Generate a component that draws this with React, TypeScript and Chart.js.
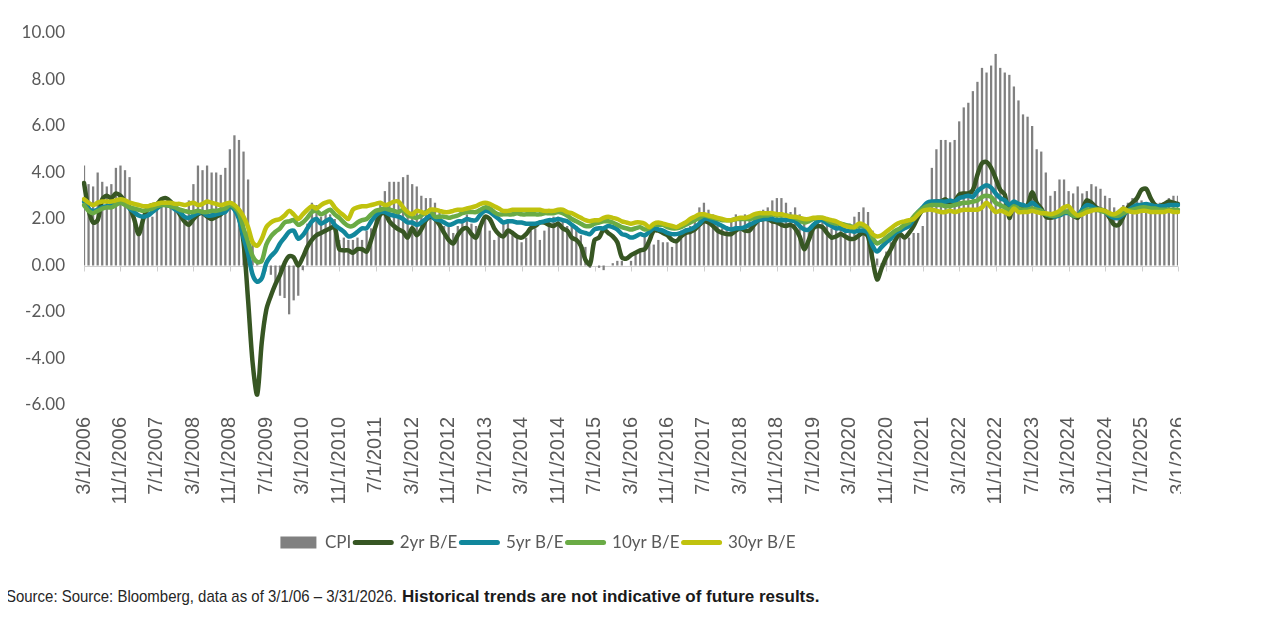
import React, { useEffect, useRef } from 'react';
import { Chart, registerables } from 'chart.js';

Chart.register(...registerables);

// Monthly categories, 3/1/2006 .. 3/1/2026
const START_YEAR = 2006;
const START_MONTH = 3;
const N_MONTHS = 241;
const categories: string[] = [];
for (let k = 0; k < N_MONTHS; k++) {
  const m0 = START_MONTH - 1 + k;
  categories.push(`${(m0 % 12) + 1}/1/${START_YEAR + Math.floor(m0 / 12)}`);
}
const LABEL_EVERY = 8;

const yTicks = [10, 8, 6, 4, 2, 0, -2, -4, -6];

// CPI (gray bars)
const cpi = [
  4.3, 3.5, 3.4,
  4.0, 3.6, 3.4, 3.5, 4.2, 4.3, 4.1, 3.8, 2.1, 1.3, 2.0, 2.5,
  2.1, 2.4, 2.8, 2.6, 2.7, 2.7, 2.4, 2.0, 2.8, 3.5, 4.3, 4.1,
  4.3, 4.0, 4.0, 3.9, 4.2, 5.0, 5.6, 5.4, 4.9, 3.7, 1.1, 0.1,
  0.0, 0.2, -0.4, -0.7, -1.3, -1.4, -2.1, -1.5, -1.3, -0.2, 1.8, 2.7,
  2.6, 2.1, 2.3, 2.2, 2.0, 1.1, 1.2, 1.1, 1.1, 1.2, 1.1, 1.5,
  1.6, 2.1, 2.7, 3.2, 3.6, 3.6, 3.6, 3.8, 3.9, 3.5, 3.4, 3.0,
  2.9, 2.9, 2.7, 2.3, 1.7, 1.7, 1.4, 1.7, 2.0, 2.2, 1.8, 1.7,
  1.6, 2.0, 1.5, 1.1, 1.4, 1.8, 2.0, 1.5, 1.2, 1.0, 1.2, 1.5,
  1.6, 1.1, 1.5, 2.0, 2.1, 2.1, 2.0, 1.7, 1.7, 1.7, 1.3, 0.8,
  -0.1, 0.0, -0.1, -0.2, 0.0, 0.1, 0.2, 0.2, 0.0, 0.2, 0.5, 0.7,
  1.4, 1.0, 0.9, 1.1, 1.0, 1.0, 0.8, 1.1, 1.5, 1.6, 1.7, 2.1,
  2.5, 2.7, 2.4, 2.2, 1.9, 1.6, 1.7, 1.9, 2.2, 2.0, 2.2, 2.1,
  2.1, 2.2, 2.4, 2.5, 2.8, 2.9, 2.9, 2.7, 2.3, 2.5, 2.2, 1.9,
  1.6, 1.5, 1.9, 2.0, 1.8, 1.6, 1.8, 1.7, 1.7, 1.8, 2.1, 2.3,
  2.5, 2.3, 1.5, 0.3, 0.1, 0.6, 1.0, 1.3, 1.4, 1.2, 1.2, 1.4,
  1.4, 1.7, 2.6, 4.2, 5.0, 5.4, 5.4, 5.3, 5.4, 6.2, 6.8, 7.0,
  7.5, 7.9, 8.5, 8.3, 8.6, 9.1, 8.5, 8.3, 8.2, 7.7, 7.1, 6.5,
  6.4, 6.0, 5.0, 4.9, 4.0, 3.0, 3.2, 3.7, 3.7, 3.2, 3.1, 3.4,
  3.1, 3.2, 3.5, 3.4, 3.3, 3.0, 2.9, 2.5, 2.4, 2.6, 2.7, 2.9,
  3.0, 2.8, 2.4, 2.3, 2.4, 2.7, 2.7, 2.9, 3.0, 3.0,
];

// 2yr breakeven
const be2 = [
  3.55, 2.4, 1.85, 1.95, 2.85, 3.0, 2.9, 3.1, 3.0, 2.75,
  2.5, 2.0, 1.35, 2.0, 2.5, 2.6, 2.65, 2.85, 2.9, 2.75,
  2.5, 2.2, 1.9, 1.75, 2.0, 2.2, 2.25, 2.1, 2.0, 2.1,
  2.2, 2.4, 2.6, 2.55, 2.1, 1.0, -1.5, -4.2, -5.55, -3.3,
  -1.9, -1.3, -0.8, -0.4, 0.1, 0.4, 0.35, 0.0, 0.35, 0.8,
  1.1, 1.3, 1.4, 1.5, 1.6, 1.65, 0.7, 0.65, 0.65, 0.55,
  0.7, 0.7, 0.6, 1.1, 1.7, 2.2, 2.25, 1.9, 1.7, 1.55,
  1.45, 1.2, 1.6, 1.3, 1.55, 1.95, 2.1, 2.0, 1.75, 1.4,
  1.1, 0.95, 1.3, 1.55, 1.6, 1.35, 1.2, 1.7, 2.1, 2.0,
  1.6, 1.35, 1.25, 1.5, 1.4, 1.25, 1.2, 1.35, 1.6, 1.7,
  1.85, 1.85, 1.75, 1.7, 1.8, 1.6, 1.5, 1.2, 1.1, 0.85,
  0.25, 0.05, 1.1, 1.2, 1.55, 1.4, 1.25, 1.0, 0.35, 0.3,
  0.45, 0.55, 0.65, 0.7, 1.05, 1.5, 1.5, 1.4, 1.3, 1.1,
  1.05, 1.25, 1.4, 1.45, 1.55, 1.75, 1.9, 1.85, 1.7, 1.5,
  1.4, 1.35, 1.35, 1.5, 1.6, 1.5, 1.5, 1.75, 1.95, 2.0,
  2.0, 1.9, 1.85, 1.75, 1.7, 1.75, 1.6, 1.25, 0.7, 1.1,
  1.6, 1.7, 1.65, 1.4, 1.2, 1.25, 1.35, 1.25, 1.15, 1.15,
  1.3, 1.4, 1.25, 0.25, -0.6, -0.1, 0.35, 0.7, 1.1, 1.35,
  1.2, 1.4, 1.7, 2.1, 2.4, 2.6, 2.7, 2.75, 2.75, 2.85,
  2.6, 2.75, 3.05, 3.1, 3.1, 3.25, 3.9, 4.4, 4.45, 4.2,
  3.75, 3.25, 3.05, 2.05, 2.65, 2.6, 2.5, 2.6, 3.15, 2.7,
  2.45, 2.1, 2.05, 2.1, 2.2, 2.3, 2.3, 2.15, 2.05, 2.4,
  2.8, 2.7, 2.5, 2.4, 2.35, 2.05, 1.75, 1.75, 2.1, 2.5,
  2.7, 2.9, 3.25, 3.3, 2.9, 2.6, 2.55, 2.65, 2.75, 2.7, 2.65,
];

// 5yr breakeven
const be5 = [
  2.75, 2.45, 2.35, 2.4, 2.5, 2.55, 2.6, 2.75, 2.85, 2.7,
  2.45, 2.3, 2.15, 2.1, 2.15, 2.3, 2.45, 2.6, 2.6, 2.55,
  2.4, 2.3, 2.1, 2.05, 2.15, 2.25, 2.3, 2.15, 2.15, 2.2,
  2.25, 2.3, 2.55, 2.4, 2.0, 1.2, 0.5, -0.4, -0.7, -0.55,
  0.1, 0.4, 0.6, 0.95, 1.2, 1.45, 1.5, 1.15, 1.3, 1.6,
  1.9, 2.0, 1.8, 1.9, 2.0, 1.75, 1.6, 1.45, 1.25, 1.3,
  1.45, 1.6, 1.6, 1.9, 2.15, 2.3, 2.3, 2.2, 2.15, 2.1,
  2.0, 1.85, 1.85, 1.75, 1.85, 2.0, 2.15, 2.0, 1.95, 1.85,
  1.75, 1.8, 1.9, 1.9, 2.0, 1.95, 1.95, 2.2, 2.35, 2.3,
  2.15, 2.0, 1.85, 1.9, 1.9, 1.85, 1.85, 1.8, 1.8, 1.8,
  1.85, 1.9, 1.95, 1.95, 2.0, 1.95, 1.9, 1.75, 1.6, 1.45,
  1.4, 1.35, 1.55, 1.6, 1.6, 1.7, 1.65, 1.55, 1.35, 1.3,
  1.2, 1.25, 1.35, 1.3, 1.45, 1.6, 1.55, 1.5, 1.4, 1.35,
  1.35, 1.4, 1.5, 1.55, 1.65, 1.8, 2.0, 2.0, 1.9, 1.8,
  1.7, 1.6, 1.55, 1.6, 1.6, 1.65, 1.75, 1.85, 1.95, 2.0,
  2.0, 2.0, 1.95, 1.95, 1.95, 1.95, 1.9, 1.7, 1.55, 1.55,
  1.75, 1.9, 1.95, 1.8, 1.7, 1.6, 1.6, 1.5, 1.5, 1.45,
  1.5, 1.5, 1.4, 0.85, 0.6, 0.8, 1.0, 1.15, 1.4, 1.5,
  1.6, 1.7, 2.0, 2.3, 2.5, 2.7, 2.75, 2.75, 2.75, 2.75,
  2.8, 2.75, 2.9, 2.95, 3.0, 2.95, 3.2, 3.35, 3.45, 3.35,
  3.1, 2.9, 2.8, 2.6, 2.75, 2.65, 2.6, 2.55, 2.7, 2.55,
  2.35, 2.2, 2.15, 2.1, 2.15, 2.25, 2.25, 2.15, 2.15, 2.4,
  2.6, 2.55, 2.45, 2.4, 2.3, 2.15, 2.05, 2.05, 2.2, 2.35,
  2.5, 2.6, 2.6, 2.65, 2.6, 2.55, 2.55, 2.55, 2.6, 2.6, 2.6,
];

// 10yr breakeven
const be10 = [
  2.6, 2.35, 2.25, 2.35, 2.45, 2.5, 2.5, 2.6, 2.7, 2.6,
  2.5, 2.45, 2.4, 2.35, 2.4, 2.45, 2.55, 2.6, 2.6, 2.55,
  2.5, 2.4, 2.35, 2.3, 2.3, 2.35, 2.3, 2.3, 2.35, 2.35,
  2.4, 2.45, 2.6, 2.5, 2.25, 1.6, 1.0, 0.4, 0.15, 0.2,
  0.9, 1.25, 1.45, 1.6, 1.85, 1.9, 1.95, 1.75, 1.85, 2.05,
  2.3, 2.35, 2.2, 2.3, 2.4, 2.2, 2.05, 1.85, 1.7, 1.7,
  1.85, 1.95, 2.0, 2.2, 2.35, 2.4, 2.45, 2.4, 2.35, 2.3,
  2.4, 2.15, 2.1, 2.05, 2.15, 2.3, 2.35, 2.1, 2.1, 2.1,
  2.05, 2.1, 2.15, 2.25, 2.3, 2.3, 2.3, 2.4, 2.5, 2.45,
  2.3, 2.2, 2.2, 2.2, 2.2, 2.25, 2.2, 2.2, 2.2, 2.2,
  2.2, 2.25, 2.25, 2.25, 2.3, 2.25, 2.15, 2.0, 1.9, 1.8,
  1.7, 1.7, 1.8, 1.85, 1.9, 1.9, 1.85, 1.75, 1.65, 1.6,
  1.55, 1.6, 1.65, 1.55, 1.6, 1.75, 1.75, 1.75, 1.65, 1.6,
  1.6, 1.65, 1.75, 1.85, 1.95, 2.05, 2.15, 2.1, 2.05, 2.0,
  1.95, 1.95, 1.95, 2.0, 2.0, 2.0, 2.0, 2.05, 2.1, 2.15,
  2.15, 2.2, 2.15, 2.15, 2.15, 2.1, 2.05, 1.95, 1.85, 1.9,
  2.0, 2.05, 2.05, 1.95, 1.85, 1.8, 1.8, 1.75, 1.7, 1.65,
  1.7, 1.7, 1.6, 1.2, 0.95, 1.05, 1.2, 1.35, 1.5, 1.6,
  1.75, 1.85, 2.1, 2.3, 2.45, 2.55, 2.6, 2.6, 2.6, 2.55,
  2.55, 2.6, 2.65, 2.7, 2.7, 2.75, 2.8, 2.95, 3.0, 2.95,
  2.7, 2.6, 2.5, 2.4, 2.55, 2.45, 2.4, 2.4, 2.45, 2.4,
  2.35, 2.2, 2.15, 2.15, 2.2, 2.3, 2.3, 2.15, 2.15, 2.3,
  2.4, 2.4, 2.4, 2.35, 2.3, 2.2, 2.15, 2.15, 2.25, 2.35,
  2.4, 2.45, 2.5, 2.5, 2.45, 2.45, 2.4, 2.4, 2.4, 2.4, 2.4,
];

// 30yr breakeven
const be30 = [
  2.85, 2.7, 2.6, 2.7, 2.75, 2.75, 2.75, 2.8, 2.85, 2.8,
  2.7, 2.65, 2.6, 2.55, 2.55, 2.6, 2.65, 2.7, 2.7, 2.7,
  2.65, 2.65, 2.6, 2.65, 2.7, 2.6, 2.65, 2.75, 2.7, 2.65,
  2.6, 2.65, 2.7, 2.6, 2.4, 2.1, 1.65, 1.0, 0.85, 1.15,
  1.65, 1.85, 1.95, 2.0, 2.15, 2.35, 2.2, 2.0, 2.2, 2.4,
  2.55, 2.45, 2.6, 2.7, 2.75, 2.5, 2.3, 2.15, 2.0, 2.4,
  2.5, 2.55, 2.55, 2.6, 2.65, 2.7, 2.6, 2.65, 2.75, 2.75,
  2.5, 2.3, 2.2, 2.35, 2.3, 2.25, 2.4, 2.4, 2.35, 2.3,
  2.3, 2.35, 2.4, 2.4, 2.45, 2.5, 2.55, 2.65, 2.7, 2.65,
  2.55, 2.45, 2.35, 2.35, 2.4, 2.4, 2.4, 2.4, 2.4, 2.4,
  2.4, 2.35, 2.35, 2.35, 2.4, 2.4, 2.3, 2.25, 2.15, 2.05,
  1.95, 1.9, 1.95, 1.95, 2.05, 2.1, 2.05, 2.0, 1.9, 1.85,
  1.8, 1.85, 1.85, 1.8, 1.65, 1.8, 1.85, 1.8, 1.75, 1.7,
  1.65, 1.75, 1.85, 2.0, 2.1, 2.2, 2.2, 2.15, 2.1, 2.05,
  2.0, 1.95, 1.95, 2.0, 2.05, 2.05, 2.1, 2.2, 2.25, 2.25,
  2.25, 2.25, 2.2, 2.2, 2.15, 2.1, 2.1, 2.05, 2.0, 2.0,
  2.05, 2.05, 2.05, 2.0, 1.95, 1.9, 1.8, 1.7, 1.65, 1.65,
  1.8, 1.75, 1.6, 1.35, 1.25, 1.3, 1.45, 1.6, 1.75, 1.85,
  1.9, 1.95, 2.0, 2.2, 2.35, 2.4, 2.4, 2.35, 2.3, 2.3,
  2.35, 2.3, 2.35, 2.4, 2.4, 2.4, 2.4, 2.5, 2.7, 2.5,
  2.3, 2.35, 2.3, 2.2, 2.45, 2.3, 2.3, 2.3, 2.35, 2.3,
  2.25, 2.25, 2.2, 2.25, 2.35, 2.5, 2.55, 2.3, 2.15, 2.2,
  2.3, 2.35, 2.4, 2.4, 2.35, 2.25, 2.2, 2.3, 2.45, 2.35,
  2.3, 2.3, 2.35, 2.35, 2.3, 2.3, 2.3, 2.3, 2.35, 2.3, 2.3,
];

const seriesNames = ['CPI', '2yr B/E', '5yr B/E', '10yr B/E', '30yr B/E'];
const seriesColors = ['#808080', '#375623', '#11879c', '#6aab45', '#c0c20e'];

const TEXT = '#595959';
const LEGEND_DX = -55;

const zeroAxisPlugin = {
  id: 'zeroAxis',
  beforeDatasetsDraw(chart: any) {
    const { ctx, chartArea, scales } = chart;
    const x = scales.x;
    const y = scales.y;
    const y0 = Math.round(y.getPixelForValue(0)) + 0.5;
    ctx.save();
    ctx.strokeStyle = '#d0d0d0';
    ctx.lineWidth = 1;
    ctx.beginPath();
    ctx.moveTo(chartArea.left, y0);
    ctx.lineTo(chartArea.right, y0);
    for (let i = 0; i < categories.length; i += LABEL_EVERY) {
      const px = Math.round(x.getPixelForValue(i)) + 0.5;
      ctx.moveTo(px, y0);
      ctx.lineTo(px, y0 + 5);
    }
    ctx.stroke();
    ctx.restore();
  },
};

const legendShiftPlugin = {
  id: 'legendShift',
  afterLayout(chart: any) {
    const lg = chart.legend;
    if (lg) {
      lg.left += LEGEND_DX;
      lg.right += LEGEND_DX;
    }
  },
};

export default function App() {
  const ref = useRef<HTMLCanvasElement>(null);

  useEffect(() => {
    if (!ref.current) return;
    const lineDs = (idx: number, data: number[], order: number) => ({
      type: 'line' as const,
      label: seriesNames[idx],
      data,
      borderColor: seriesColors[idx],
      backgroundColor: seriesColors[idx],
      borderWidth: 4.5,
      pointRadius: 0,
      pointHoverRadius: 0,
      tension: 0.3,
      borderCapStyle: 'round' as const,
      borderJoinStyle: 'round' as const,
      fill: false,
      order,
    });

    const chart = new Chart(ref.current, {
      type: 'bar',
      data: {
        labels: categories,
        datasets: [
          {
            type: 'bar',
            label: seriesNames[0],
            data: cpi,
            backgroundColor: seriesColors[0],
            borderWidth: 0,
            barPercentage: 0.5,
            categoryPercentage: 1,
            order: 10,
          } as any,
          lineDs(1, be2, 4),
          lineDs(2, be5, 3),
          lineDs(3, be10, 2),
          lineDs(4, be30, 1),
        ],
      },
      options: {
        responsive: false,
        animation: false,
        layout: { autoPadding: false, padding: { top: 25, right: 3, left: 0, bottom: 0 } } as any,
        scales: {
          x: {
            offset: false,
            grid: { display: false, drawTicks: false },
            border: { display: false },
            ticks: {
              autoSkip: false,
              minRotation: 90,
              maxRotation: 90,
              padding: 12,
              color: TEXT,
              font: { family: '"Liberation Sans", Arial, sans-serif', size: 20 },
              callback: (_v: any, i: number) => (i % LABEL_EVERY === 0 ? categories[i] : null),
            },
            afterFit: (s: any) => {
              s.height = 125;
              s.paddingLeft = 0;
              s.paddingRight = 0;
            },
          },
          y: {
            min: yTicks[yTicks.length - 1],
            max: yTicks[0],
            afterBuildTicks: (s: any) => {
              s.ticks = yTicks.map((v) => ({ value: v }));
            },
            grid: { display: false, drawTicks: false },
            border: { display: false },
            ticks: {
              padding: 19,
              color: TEXT,
              font: { family: 'Lato, "Open Sans", sans-serif', size: 17 },
              callback: (v: any) => Number(v).toFixed(2),
            },
            afterFit: (s: any) => {
              s.width = 76;
              s.paddingTop = 0;
              s.paddingBottom = 0;
            },
          },
        },
        plugins: {
          tooltip: { enabled: false },
          legend: {
            position: 'bottom',
            labels: {
              usePointStyle: true,
              pointStyleWidth: 36,
              boxHeight: 12,
              padding: 4,
              color: TEXT,
              font: { family: 'Lato, "Open Sans", sans-serif', size: 17 },
              sort: (a: any, b: any) => a.datasetIndex - b.datasetIndex,
              generateLabels: (c: any) =>
                Chart.defaults.plugins.legend.labels.generateLabels(c).map((l: any) => ({
                  ...l,
                  pointStyle: l.datasetIndex === 0 ? 'rect' : 'line',
                  lineWidth: l.datasetIndex === 0 ? 0 : 5,
                  lineCap: 'round',
                  fillStyle: seriesColors[l.datasetIndex],
                  strokeStyle: seriesColors[l.datasetIndex],
                  fontColor: TEXT,
                })),
            },
          },
        },
      },
      plugins: [zeroAxisPlugin, legendShiftPlugin],
    } as any);

    return () => chart.destroy();
  }, []);

  return (
    <div>
      <canvas ref={ref} width={1173} height={553} style={{ display: 'block' }} />
      <div
        style={{
          marginTop: 26,
          marginLeft: -2,
          fontFamily: '"Liberation Sans", Arial, sans-serif',
          fontSize: 17,
          lineHeight: '20px',
          color: '#262626',
          whiteSpace: 'nowrap',
        }}
      >
        <span
          style={{
            display: 'inline-block',
            transform: 'scaleX(0.88)',
            transformOrigin: '0 50%',
            marginRight: -53,
          }}
        >
          Source: Source: Bloomberg, data as of 3/1/06 – 3/31/2026.
        </span>{' '}
        <b style={{ color: '#1a1a1a' }}>Historical trends are not indicative of future results.</b>
      </div>
    </div>
  );
}
